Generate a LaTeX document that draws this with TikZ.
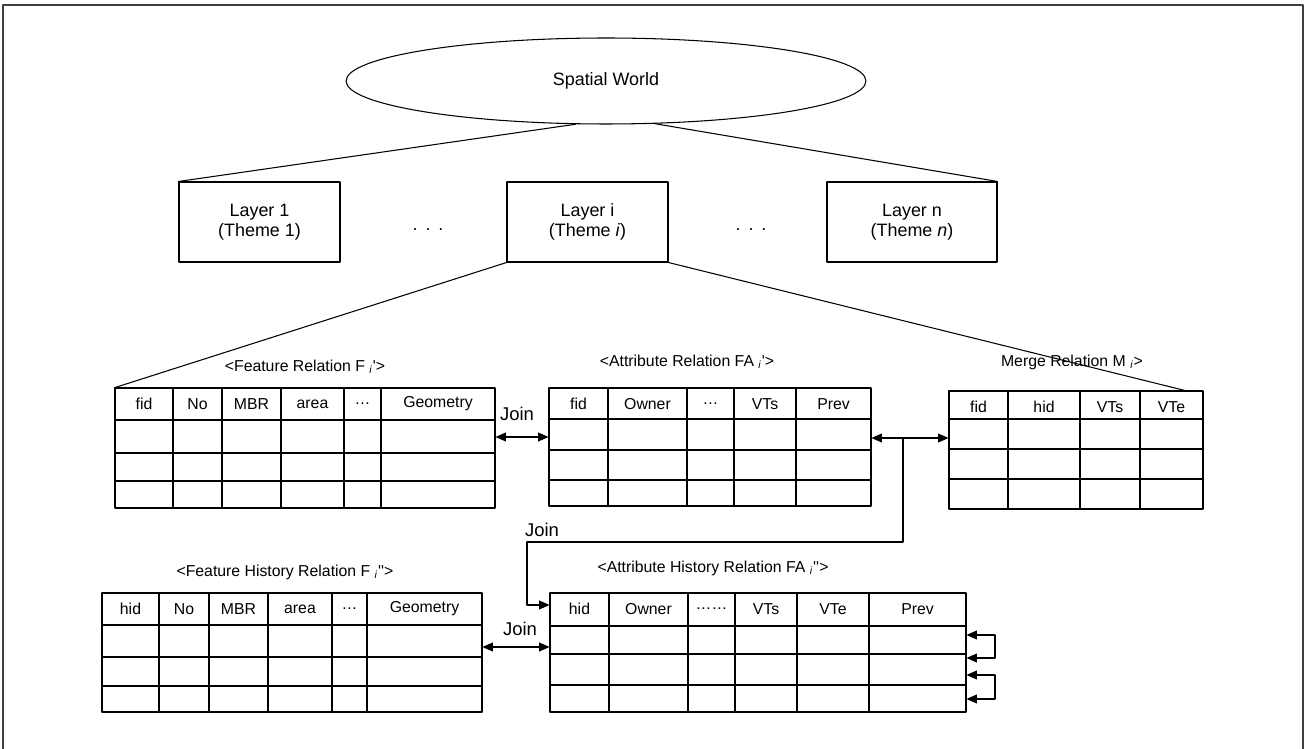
\documentclass[tikz,border=0pt]{standalone}
\usepackage{fontspec}
\setmainfont{Liberation Sans}
\usetikzlibrary{arrows.meta,fit,shapes.geometric}
\tikzset{
  frame/.style={line width=0.8pt, black!75},
  tbl/.style={line width=0.7pt},
  cell/.style={inner sep=0pt, font=\fontsize{9}{10}\selectfont},
  joinlabel/.style={inner sep=0pt, font=\fontsize{10.5}{12}\selectfont},
  reltitle/.style={inner sep=0pt, font=\fontsize{9}{10}\selectfont},
  world/.style={
    draw, ellipse, line width=0.6pt,
    minimum width=10.4cm, minimum height=1.72cm, inner sep=0pt,
    font=\fontsize{10.2}{12}\selectfont
  },
  layer/.style={
    draw, line width=0.6pt, minimum height=1.6cm,
    align=center, font=\fontsize{10.2}{11.5}\selectfont
  },
  branch/.style={line width=0.6pt},
  joinarrow/.style={line width=0.7pt,
    {Triangle[length=6pt,width=5pt]}-{Triangle[length=6pt,width=5pt]}},
  onearrow/.style={line width=0.7pt, -{Triangle[length=6pt,width=5pt]}}
}
\newcommand{\RelTable}[8]{%
  % #1 = name, #2/#3 = left/top, #4/#5 = right/bottom (px)
  % #6 = row lines (y), #7 = column lines (x), #8 = header cells (x/text)
  \coordinate (#1-nw) at (#2,#3);
  \coordinate (#1-se) at (#4,#5);
  \node[fit=(#1-nw)(#1-se), inner sep=0pt] (#1) {};
  \draw[tbl] (#1-nw) rectangle (#1-se);
  \foreach \ry in {#6} \draw[tbl] (#2,\ry) -- (#4,\ry);
  \foreach \cx in {#7} \draw[tbl] (\cx,#3) -- (\cx,#5);
  \foreach \hx/\htext in {#8} \node[cell] at (\hx,#3+16) {\htext};
}
\newcommand{\spreaddots}{.\hspace{4.5pt}.\hspace{4.5pt}.}

\begin{document}
\begin{tikzpicture}[x=0.02cm, y=-0.02cm, line cap=round, line join=round]
  \useasboundingbox (0,0) rectangle (1305,749);
  % outer frame, open at the bottom
  \draw[frame] (3,749) -- (3,5) -- (1303,5) -- (1303,749);

  % world and layers
  \node[world] (world) at (606,81) {Spatial World};
  \node[layer, minimum width=3.22cm] (layer1) at (259.5,222) {Layer 1\\(Theme 1)};
  \node[layer, minimum width=3.22cm] (layeri) at (587.5,222) {Layer i\\(Theme \textit{i})};
  \node[layer, minimum width=3.4cm] (layern) at (912,222) {Layer n\\(Theme \textit{n})};
  \node[layer, draw=none, minimum height=0pt, inner sep=0pt] (dots1) at (428,230) {\spreaddots};
  \node[layer, draw=none, minimum height=0pt, inner sep=0pt] (dots2) at (751,230) {\spreaddots};

  \draw[branch] (world.235) -- (layer1.north west);
  \draw[branch] (world.319) -- (layern.north east);

  % relations of layer i
  \RelTable{fr}{115}{388}{495}{508}{420,453,481}{173,222,281,344,381}
    {144/fid,197.5/No,251.5/MBR,312.5/area,362.5/\dots,438/Geometry}
  \RelTable{ar}{549}{388}{871}{506}{419,450,480}{608,687,734,796}
    {578.5/fid,647.5/Owner,710.5/\dots,765/VTs,833.5/Prev}
  \RelTable{mr}{949}{391}{1203}{509}{419,449,479}{1008,1080,1140}
    {978.5/fid,1044/hid,1110/VTs,1171.5/VTe}
  \RelTable{fh}{102}{593}{482}{712}{625,657,686}{159,209,268,332,367}
    {130.5/hid,184/No,238.5/MBR,300/area,349.5/\dots,424.5/Geometry}
  \RelTable{ah}{550}{593}{966}{712}{626,654,685}{609,688,735,797,869}
    {579.5/hid,648.5/Owner,711.5/\dots\dots,766/VTs,833/VTe,917.5/Prev}

  \node[reltitle] (fr-title) at (305,367) {<Feature Relation F \textsubscript{\textit{i}}\textquotesingle>};
  \node[reltitle] (ar-title) at (687,362) {<Attribute Relation FA \textsubscript{\textit{i}}\textquotesingle>};
  \node[reltitle] (mr-title) at (1072,362) {Merge Relation M \textsubscript{\textit{i}}>};
  \node[reltitle] (fh-title) at (285,572) {<Feature History Relation F \textsubscript{\textit{i}}\textquotesingle\textquotesingle>};
  \node[reltitle] (ah-title) at (713,568) {<Attribute History Relation FA \textsubscript{\textit{i}}\textquotesingle\textquotesingle>};

  \coordinate (mrtop) at (1187,391);
  \draw[branch] (layeri.south west) -- (fr.north west);
  \draw[branch] (layeri.south east) -- (mrtop);

  % joins
  \draw[joinarrow] (fr.east |- 0,437) -- (ar.west |- 0,437);
  \node[joinlabel] (join1) at (517,414) {Join};
  \draw[joinarrow] (ar.east |- 0,438) -- (mr.west |- 0,438);
  \coordinate (split) at (903,438);
  \coordinate (bend) at (527,542);
  \draw[onearrow] (split) |- (bend) |- (ah.west |- 0,605);
  \node[joinlabel] (join2) at (542,530) {Join};
  \draw[joinarrow] (fh.east |- 0,647) -- (ah.west |- 0,647);
  \node[joinlabel] (join3) at (520,629) {Join};

  % previous versions
  \draw[joinarrow] (ah.east |- 0,635) -- (995,635) -- (995,658) -- (ah.east |- 0,658);
  \draw[joinarrow] (ah.east |- 0,675) -- (995,675) -- (995,699) -- (ah.east |- 0,699);
\end{tikzpicture}
\end{document}
